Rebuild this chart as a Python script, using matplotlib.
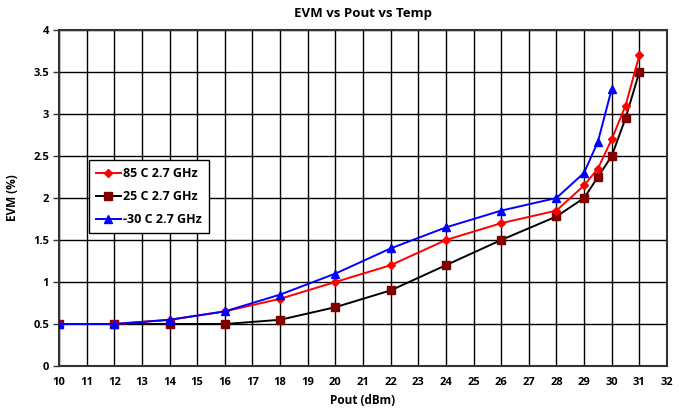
import matplotlib.pyplot as plt
from matplotlib.ticker import FuncFormatter

plt.rcParams['font.family'] = ['Open Sans', 'DejaVu Sans']
plt.rcParams['font.weight'] = 'bold'

# datos
x_85 = [10, 12, 14, 16, 18, 20, 22, 24, 26, 28, 29, 29.5, 30, 30.5, 31]
evm_85 = [0.5, 0.5, 0.55, 0.65, 0.8, 1.0, 1.2, 1.5, 1.7, 1.85, 2.15, 2.35, 2.7, 3.1, 3.7]

x_25 = [10, 12, 14, 16, 18, 20, 22, 24, 26, 28, 29, 29.5, 30, 30.5, 31]
evm_25 = [0.5, 0.5, 0.5, 0.5, 0.55, 0.7, 0.9, 1.2, 1.5, 1.78, 2.0, 2.25, 2.5, 2.95, 3.5]

x_m30 = [10, 12, 14, 16, 18, 20, 22, 24, 26, 28, 29, 29.5, 30]
evm_m30 = [0.5, 0.5, 0.55, 0.65, 0.85, 1.1, 1.4, 1.65, 1.85, 2.0, 2.3, 2.67, 3.3]

labels = ['85 C 2.7 GHz', '25 C 2.7 GHz', '-30 C 2.7 GHz']

fig = plt.figure(figsize=(6.79, 4.17), dpi=100)
ax = fig.add_axes([59/679, 1-366/417, (667-59)/679, (366-30)/417])

ax.plot(x_85, evm_85, color='#ff0000', lw=1.4, marker='D', ms=4,
        mfc='#ff0000', mec='#ff0000', label=labels[0], zorder=4)
ax.plot(x_25, evm_25, color='black', lw=1.4, marker='s', ms=5.8,
        mfc='#800000', mec='#800000', label=labels[1], zorder=3)
ax.plot(x_m30, evm_m30, color='#0000ff', lw=1.4, marker='^', ms=5.5,
        mfc='#0000ff', mec='#0000ff', label=labels[2], zorder=5)

ax.set_xlim(10, 32)
ax.set_ylim(0, 4)
ax.set_xticks(range(10, 33))
ax.set_yticks([i*0.5 for i in range(9)])
ax.yaxis.set_major_formatter(FuncFormatter(lambda v, p: ('%g' % v)))
ax.grid(True, color='black', lw=1.0)
ax.set_axisbelow(True)
ax.tick_params(axis='both', labelsize=8, length=4, width=1, color='#333333', pad=3)
ax.tick_params(axis='x', length=0, pad=8)
for s in ax.spines.values():
    s.set_color('#333333')
    s.set_linewidth(1.5)

ax.set_title('EVM vs Pout vs Temp', fontsize=9.5, fontweight='bold', pad=9)
ax.set_xlabel('Pout (dBm)', fontsize=8.5, fontweight='bold', labelpad=4)
ax.set_ylabel('EVM (%)', fontsize=8.5, fontweight='bold', labelpad=10)

leg = ax.legend(loc='upper left', bbox_to_anchor=(30/608, 1-130/336), fontsize=9,
                frameon=True, fancybox=False, framealpha=1, edgecolor='black',
                borderpad=0.55, labelspacing=0.8, handlelength=2.0, handletextpad=0.2,
                borderaxespad=0)
leg.get_frame().set_linewidth(1.0)

fig.savefig('out.png', dpi=100)
